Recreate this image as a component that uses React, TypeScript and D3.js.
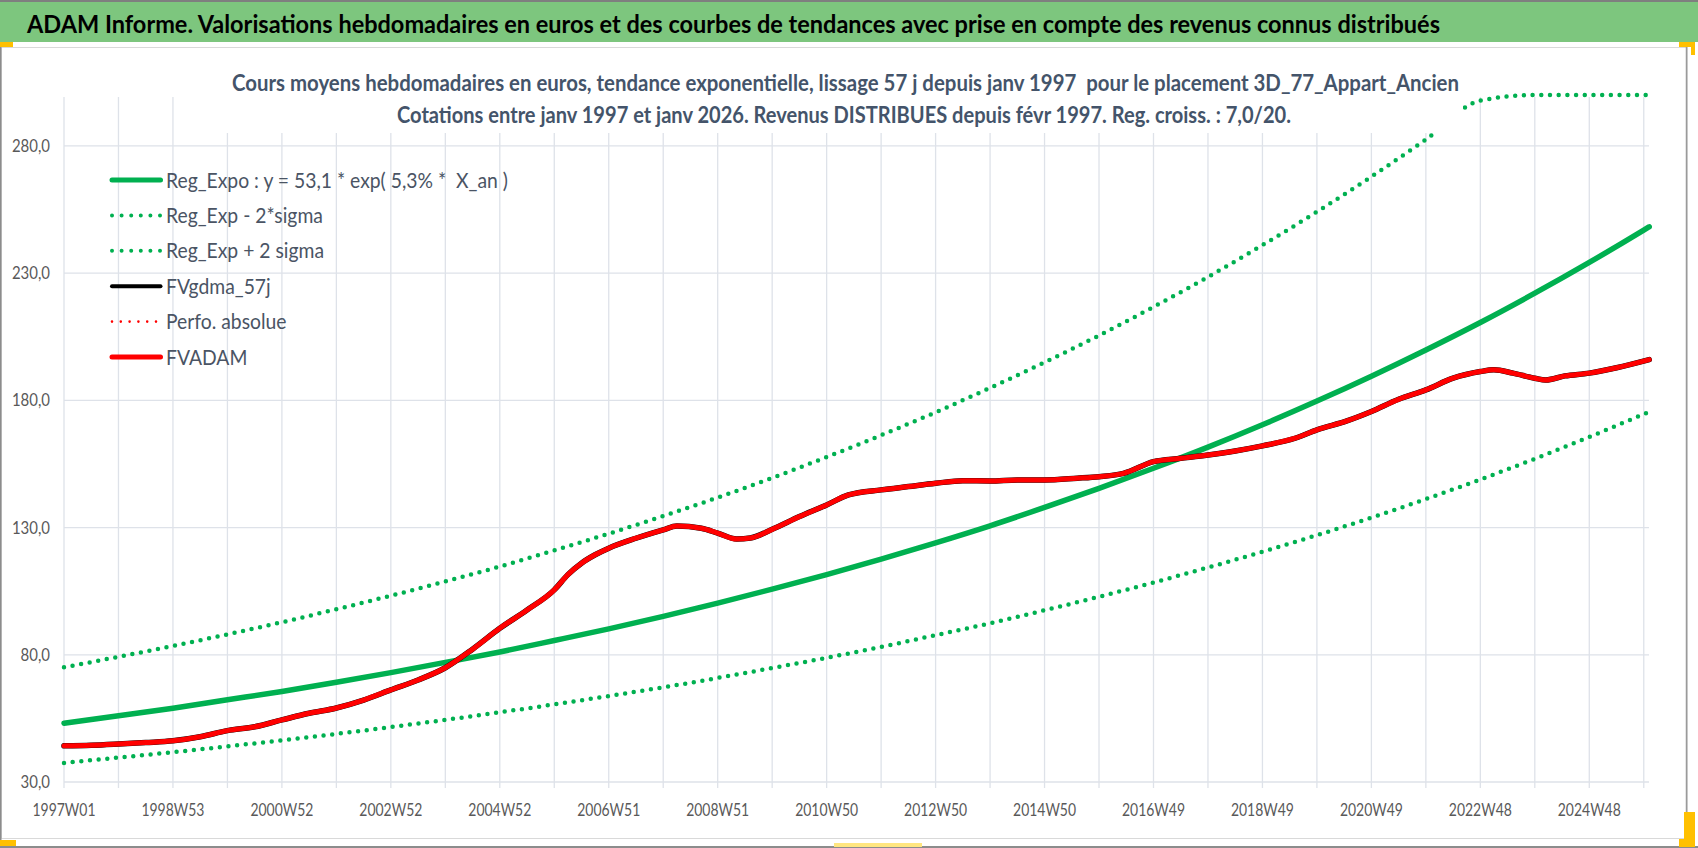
import { useEffect, useRef } from "react";
import * as d3 from "d3";

const width = 1698;
const height = 848;
const plot = { left: 64, right: 1649, top: 95, bottom: 782 };

const GREEN = "#00B050";
const RED = "#FF0000";
const GRID = "#DEE2E9";
const AXIS_TEXT = "#595959";
const TITLE_TEXT = "#44546A";
const LEGEND_TEXT = "#4A5464";
const FONT = "Lato, 'Open Sans', sans-serif";

const mainTitle =
  "ADAM Informe. Valorisations hebdomadaires en euros et des courbes de tendances avec prise en compte des revenus connus distribués";
const subTitle1 =
  "Cours moyens hebdomadaires en euros, tendance exponentielle, lissage 57 j depuis janv 1997  pour le placement 3D_77_Appart_Ancien";
const subTitle2 =
  "Cotations entre janv 1997 et janv 2026. Revenus DISTRIBUES depuis févr 1997. Reg. croiss. : 7,0/20.";

// x unit = one tick of the category axis (52 weekly quotes)
const weekCount = 1513;
const xLabels = [
  "1997W01", "1998W53", "2000W52", "2002W52", "2004W52", "2006W51", "2008W51", "2010W50",
  "2012W50", "2014W50", "2016W49", "2018W49", "2020W49", "2022W48", "2024W48",
];
const yTicks = [30, 80, 130, 180, 230, 280];

const trendX = [
  0, 1, 2, 3, 4, 5, 6, 7, 8, 9, 10, 11, 12, 13, 14, 15, 16, 17, 18, 19, 20, 21, 22, 23, 24, 25,
  26, 27, 28, 29, 29.1,
];
const regExpo = [
  53.1, 56.0, 59.0, 62.3, 65.6, 69.2, 73.0, 77.0, 81.1, 85.6, 90.2, 95.1, 100.3, 105.8, 111.5,
  117.6, 124.0, 130.7, 137.9, 145.4, 153.3, 161.6, 170.4, 179.7, 189.5, 199.8, 210.6, 222.1,
  234.2, 246.9, 248.2,
];
const regMinus2Sigma = [
  37.5, 39.6, 41.7, 44.0, 46.4, 48.9, 51.6, 54.4, 57.4, 60.5, 63.8, 67.2, 70.9, 74.8, 78.8,
  83.1, 87.7, 92.4, 97.5, 102.8, 108.4, 114.3, 120.5, 127.0, 133.9, 141.2, 148.9, 157.0, 165.6,
  174.6, 175.5,
];
const regPlus2Sigma = [
  75.1, 79.2, 83.5, 88.0, 92.8, 97.9, 103.2, 108.8, 114.7, 121.0, 127.6, 134.5, 141.8, 149.5,
  157.7, 166.3, 175.3, 184.9, 194.9, 205.5, 216.7, 228.5, 241.0, 254.1, 267.9, 282.5, 297.8,
  314.0, 331.1, 349.2, 351.0,
];

const adamX = [
  0, 0.5, 1, 1.5, 2, 2.5, 3, 3.5, 4, 4.5, 5, 5.5, 6, 6.5, 7, 7.5, 8, 8.5, 9, 9.25, 9.5, 9.75,
  10, 10.5, 11, 11.25, 11.7, 12, 12.35, 12.6, 13, 13.5, 14, 14.4, 15, 15.5, 16, 16.5, 17, 17.5,
  18, 18.6, 19, 19.45, 20, 20.5, 21, 21.5, 22, 22.6, 23, 23.55, 24, 24.5, 25, 25.5, 26, 26.25,
  26.6, 27, 27.2, 27.55, 28, 28.5, 29.1,
];
const adamValues = [
  44.2, 44.4, 44.9, 45.5, 46.2, 47.8, 50.2, 51.7, 54.4, 57.0, 59.1, 62.2, 66.2, 70.1, 74.9, 82.2,
  90.4, 97.6, 105.5, 111.5, 116.0, 119.3, 121.9, 125.8, 129.1, 130.6, 129.7, 127.8, 125.5, 125.9,
  129.3, 134.3, 138.9, 142.8, 144.8, 146.1, 147.4, 148.4, 148.3, 148.7, 148.7, 149.4, 150.0,
  151.3, 155.9, 157.2, 158.5, 160.1, 162.1, 165.1, 168.4, 171.9, 175.6, 180.4, 184.1, 188.7,
  191.3, 192.0, 190.7, 188.7, 188.0, 189.6, 190.7, 192.8, 196.0,
];

const legendItems = [
  { label: "Reg_Expo : y = 53,1 * exp( 5,3% *  X_an )", color: GREEN, dash: null, w: 5 },
  { label: "Reg_Exp - 2*sigma", color: GREEN, dash: "0 9.6", w: 4 },
  { label: "Reg_Exp + 2 sigma", color: GREEN, dash: "0 9.6", w: 4 },
  { label: "FVgdma_57j", color: "#000000", dash: null, w: 4 },
  { label: "Perfo. absolue", color: RED, dash: "0 8.8", w: 2.6 },
  { label: "FVADAM", color: RED, dash: null, w: 5 },
];

// narrow the glyphs a little, Calibri-like
const condense = (sel: any, k: number) =>
  sel.each(function (this: SVGTextElement) {
    const len = this.getComputedTextLength();
    d3.select(this).attr("textLength", len * k).attr("lengthAdjust", "spacingAndGlyphs");
  });

const drawChart = (ref: SVGSVGElement) => {
  const svg = d3.select(ref);
  svg.selectAll("*").remove();

  const x = d3.scaleLinear().domain([0, weekCount / 52]).range([plot.left, plot.right]);
  const y = d3.scaleLinear().domain([30, 300]).range([plot.bottom, plot.top]).clamp(true);

  svg.append("rect").attr("width", width).attr("height", height).attr("fill", "#ffffff");

  // chart area frame
  svg.append("rect")
    .attr("x", 1.5).attr("y", 47.5).attr("width", 1686).attr("height", 791)
    .attr("fill", "none").attr("stroke", "#D9D9D9");
  svg.append("line").attr("x1", 1686.5).attr("x2", 1686.5).attr("y1", 42).attr("y2", height)
    .attr("stroke", "#9A9A9A").attr("stroke-width", 1.5);
  svg.append("line").attr("x1", 0).attr("x2", width).attr("y1", 847).attr("y2", 847)
    .attr("stroke", "#8C8C8C").attr("stroke-width", 2);
  svg.append("line").attr("x1", 0.75).attr("x2", 0.75).attr("y1", 0).attr("y2", height)
    .attr("stroke", "#8C8C8C").attr("stroke-width", 1.5);

  // green banner
  svg.append("rect").attr("x", 0).attr("y", 0).attr("width", width).attr("height", 42).attr("fill", "#7DC67E");
  svg.append("line").attr("x1", 0).attr("x2", width).attr("y1", 1).attr("y2", 1)
    .attr("stroke", "#7F7F7F").attr("stroke-width", 2);
  svg.append("text")
    .attr("x", 27).attr("y", 32.5)
    .attr("font-family", FONT).attr("font-weight", 700).attr("font-size", 25.5)
    .attr("fill", "#000000")
    .attr("textLength", 1413).attr("lengthAdjust", "spacingAndGlyphs")
    .text(mainTitle);

  // gridlines
  const grid = svg.append("g").attr("stroke", GRID).attr("stroke-width", 1.3);
  grid.selectAll("line.v")
    .data(d3.range(0, 30))
    .join("line")
    .attr("class", "v")
    .attr("x1", (d) => x(d)).attr("x2", (d) => x(d))
    .attr("y1", plot.top + 2).attr("y2", plot.bottom + 6);
  grid.selectAll("line.h")
    .data(yTicks)
    .join("line")
    .attr("class", "h")
    .attr("x1", plot.left).attr("x2", plot.right)
    .attr("y1", (d) => y(d)).attr("y2", (d) => y(d));

  // y labels
  svg.append("g")
    .selectAll("text")
    .data(yTicks)
    .join("text")
    .attr("x", 50).attr("y", (d) => y(d) + 6)
    .attr("text-anchor", "end")
    .attr("font-family", FONT).attr("font-size", 17).attr("fill", AXIS_TEXT)
    .text((d) => d3.format(".1f")(d).replace(".", ","))
    .call(condense, 0.88);

  // x labels
  svg.append("g")
    .selectAll("text")
    .data(xLabels)
    .join("text")
    .attr("x", (_, i) => x(i * 2)).attr("y", 815.5)
    .attr("text-anchor", "middle")
    .attr("font-family", FONT).attr("font-size", 17).attr("fill", AXIS_TEXT)
    .attr("textLength", 63).attr("lengthAdjust", "spacingAndGlyphs")
    .text((d) => d);

  const trendLine = (values: number[]) =>
    d3.line<number>()
      .x((_, i) => x(trendX[i]))
      .y((d) => y(d))
      .curve(d3.curveMonotoneX)(values);

  const adamLine = d3.line<number>()
    .x((_, i) => x(adamX[i]))
    .y((d) => y(d))
    .curve(d3.curveMonotoneX)(adamValues);

  const series = svg.append("g").attr("fill", "none").attr("stroke-linecap", "round");
  series.append("path").attr("d", trendLine(regMinus2Sigma))
    .attr("stroke", GREEN).attr("stroke-width", 4.5).attr("stroke-dasharray", "0 8.7");
  series.append("path").attr("d", trendLine(regPlus2Sigma))
    .attr("stroke", GREEN).attr("stroke-width", 4.5).attr("stroke-dasharray", "0 8.7");
  series.append("path").attr("d", trendLine(regExpo))
    .attr("stroke", GREEN).attr("stroke-width", 5.5);
  series.append("path").attr("d", adamLine)
    .attr("stroke", "#000000").attr("stroke-width", 5.5);
  series.append("path").attr("d", adamLine)
    .attr("stroke", RED).attr("stroke-width", 5).attr("stroke-linejoin", "round");

  // chart title box (white background hides what passes behind it)
  svg.append("rect").attr("x", 225).attr("y", 56).attr("width", 1238).attr("height", 77).attr("fill", "#ffffff");
  svg.append("text")
    .attr("x", 232).attr("y", 91)
    .attr("font-family", FONT).attr("font-weight", 700).attr("font-size", 22.5)
    .attr("fill", TITLE_TEXT).style("white-space", "pre")
    .attr("textLength", 1227).attr("lengthAdjust", "spacingAndGlyphs")
    .text(subTitle1);
  svg.append("text")
    .attr("x", 397).attr("y", 122.5)
    .attr("font-family", FONT).attr("font-weight", 700).attr("font-size", 22.5)
    .attr("fill", TITLE_TEXT)
    .attr("textLength", 894).attr("lengthAdjust", "spacingAndGlyphs")
    .text(subTitle2);

  // legend
  const legend = svg.append("g");
  const rows = legend.selectAll("g")
    .data(legendItems)
    .join("g")
    .attr("transform", (_, i) => `translate(0 ${180 + i * 35.4})`);
  rows.append("line")
    .attr("x1", 112).attr("x2", 160.5)
    .attr("stroke", (d) => d.color)
    .attr("stroke-width", (d) => d.w)
    .attr("stroke-linecap", "round")
    .attr("stroke-dasharray", (d) => d.dash);
  rows.append("text")
    .attr("x", 166).attr("y", 7.5)
    .attr("font-family", FONT).attr("font-size", 21).attr("fill", LEGEND_TEXT)
    .style("white-space", "pre")
    .text((d) => d.label)
    .call(condense, 0.92);

  // selection handles of the screenshot
  const handles = svg.append("g").attr("fill", "#FFC000");
  handles.append("rect").attr("x", 0).attr("y", 42).attr("width", 13).attr("height", 5);
  handles.append("rect").attr("x", 1679).attr("y", 42).attr("width", 16).attr("height", 5);
  handles.append("rect").attr("x", 1691).attr("y", 42).attr("width", 4).attr("height", 13);
  handles.append("rect").attr("x", 1684).attr("y", 812).attr("width", 11).attr("height", 34);
  handles.append("rect").attr("x", 1679).attr("y", 839).attr("width", 16).attr("height", 8);
  handles.append("rect").attr("x", 0).attr("y", 840).attr("width", 16).attr("height", 6);
  handles.append("rect").attr("x", 834).attr("y", 843).attr("width", 88).attr("height", 4).attr("fill", "#FFE680");
};

export default function App() {
  const ref = useRef<SVGSVGElement>(null);

  useEffect(() => {
    document.body.style.margin = "0";
    document.body.style.overflow = "hidden";
    if (ref.current) drawChart(ref.current);
  }, []);

  return <svg ref={ref} width={width} height={height} style={{ display: "block" }} />;
}
